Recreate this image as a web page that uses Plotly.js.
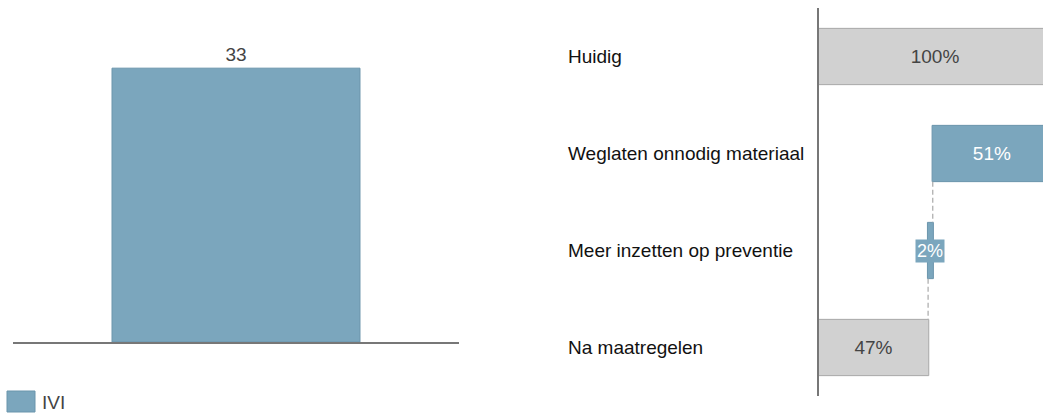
<!DOCTYPE html>
<html>
<head>
<meta charset="utf-8">
<script src="https://cdn.plot.ly/plotly-3.0.1.min.js"></script>
<style>
  html, body { margin: 0; padding: 0; background: #fff; }
  #chart { width: 1043px; height: 414px; }
</style>
</head>
<body>
<div id="chart"></div>
<script>
// left panel: one bar
const seriesName = 'IVI';
const barCategories = ['IVI'];
const barValues = [33];

// right panel: waterfall of measures
const steps = ['Huidig', 'Weglaten onnodig materiaal', 'Meer inzetten op preventie', 'Na maatregelen'];
const stepValues = [100, -51, -2, 47];
const stepMeasures = ['absolute', 'relative', 'relative', 'total'];
const stepLabels = ['100%', '51%', '2%', '47%'];

const blue = '#7ba6bd';
const blueEdge = '#6b95ac';
const grey = '#d1d1d1';
const greyEdge = '#a9a9a9';
const font = 'Liberation Sans, Arial, Helvetica, sans-serif';

// running positions for the small step that gets a boxed label
const ends = [];
let run = 0;
stepValues.forEach((v, i) => {
    if (stepMeasures[i] === 'absolute') run = v;
    else if (stepMeasures[i] === 'relative') run += v;
    ends.push(run);
});
const smallIdx = 2;
const smallMid = ends[smallIdx] - stepValues[smallIdx] / 2;

const barTrace = {
    type: 'bar',
    x: barCategories,
    y: barValues,
    name: seriesName,
    width: 0.556,
    marker: {color: blue, line: {color: blueEdge, width: 1}},
    text: barValues.map(String),
    textposition: 'outside',
    textfont: {family: font, size: 19, color: '#444'},
    cliponaxis: false,
    hoverinfo: 'skip',
    showlegend: false,
    xaxis: 'x',
    yaxis: 'y'
};

const fallTrace = {
    type: 'waterfall',
    orientation: 'h',
    y: steps,
    x: stepValues,
    measure: stepMeasures,
    text: stepLabels,
    textposition: stepLabels.map((t, i) => i === smallIdx ? 'none' : 'inside'),
    insidetextanchor: 'middle',
    insidetextfont: {
        family: font, size: 19,
        color: stepMeasures.map(m => m === 'relative' ? '#fff' : '#444')
    },
    decreasing: {marker: {color: blue, line: {color: blueEdge, width: 1}}},
    increasing: {marker: {color: blue, line: {color: blueEdge, width: 1}}},
    totals: {marker: {color: grey, line: {color: greyEdge, width: 1}}},
    connector: {mode: 'between', line: {color: '#b0b0b0', width: 1.3, dash: '5px,3px'}},
    hoverinfo: 'skip',
    showlegend: false,
    xaxis: 'x2',
    yaxis: 'y2'
};

const annotations = steps.map(s => ({
    xref: 'paper', yref: 'y2',
    x: 566 / 1043, y: s,
    xanchor: 'left', yanchor: 'middle',
    text: s, showarrow: false,
    font: {family: font, size: 19, color: '#111'}
}));

annotations.push({
    xref: 'x2', yref: 'y2',
    x: smallMid, y: steps[smallIdx],
    text: stepLabels[smallIdx], showarrow: false,
    bgcolor: blue, borderpad: 1,
    font: {family: font, size: 18, color: '#fff'}
});

// legend entry
annotations.push({
    xref: 'paper', yref: 'paper',
    x: 40 / 1043, y: 1 - 402 / 414,
    xanchor: 'left', yanchor: 'middle',
    text: seriesName, showarrow: false,
    font: {family: font, size: 19, color: '#444'}
});

const layout = {
    width: 1043,
    height: 414,
    margin: {l: 0, r: 0, t: 0, b: 0},
    paper_bgcolor: '#fff',
    plot_bgcolor: '#fff',
    font: {family: font},
    waterfallgap: 0.42,
    xaxis: {
        domain: [13 / 1043, 459 / 1043],
        range: [-0.5, 0.5],
        showline: true, linecolor: '#777', linewidth: 2,
        showticklabels: false, ticks: '', showgrid: false, zeroline: false,
        fixedrange: true
    },
    yaxis: {
        domain: [1 - 342 / 414, 1 - 30 / 414],
        range: [0, 37.6],
        showline: false, showticklabels: false, ticks: '',
        showgrid: false, zeroline: false, fixedrange: true
    },
    xaxis2: {
        domain: [819 / 1043, 1],
        anchor: 'y2',
        range: [0, 96.5],
        showline: false, showticklabels: false, ticks: '',
        showgrid: false, zeroline: false, fixedrange: true
    },
    yaxis2: {
        domain: [1 - 396 / 414, 1 - 8 / 414],
        anchor: 'x2',
        type: 'category',
        autorange: 'reversed',
        showline: true, linecolor: '#777', linewidth: 2,
        showticklabels: false, ticks: '', showgrid: false, zeroline: false,
        fixedrange: true
    },
    shapes: [{
        type: 'rect', xref: 'paper', yref: 'paper',
        x0: 7 / 1043, x1: 35 / 1043,
        y0: 1 - 412 / 414, y1: 1 - 391 / 414,
        fillcolor: blue, line: {color: blueEdge, width: 1}
    }],
    annotations: annotations,
    showlegend: false
};

Plotly.newPlot('chart', [barTrace, fallTrace], layout, {displayModeBar: false, staticPlot: true});
</script>
</body>
</html>
